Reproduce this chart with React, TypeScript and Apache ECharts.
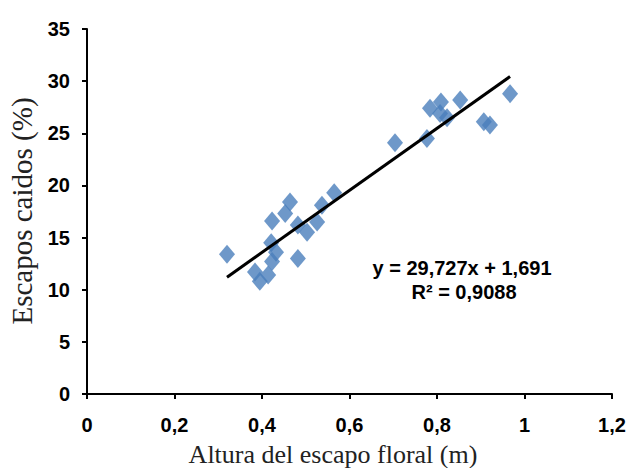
import React, { useEffect, useRef } from "react";
import * as echarts from "echarts";

const alturas: number[] = [0.32, 0.384, 0.395, 0.414, 0.423, 0.421, 0.432, 0.423, 0.464, 0.453, 0.482, 0.482, 0.503, 0.526, 0.537, 0.565, 0.704, 0.777, 0.784, 0.809, 0.807, 0.823, 0.853, 0.907, 0.921, 0.967];
const caidos: number[] = [13.4, 11.7, 10.8, 11.4, 16.6, 14.5, 13.6, 12.7, 18.4, 17.3, 13.0, 16.2, 15.5, 16.5, 18.1, 19.3, 24.1, 24.5, 27.4, 28.0, 26.9, 26.5, 28.2, 26.1, 25.8, 28.8];
const trendLine: [number, number][] = [[0.32, 11.2], [0.967, 30.44]];
const xTicks = { min: 0, max: 1.2, interval: 0.2 };
const yTicks = { min: 0, max: 35, interval: 5 };
const ecuacion = "y = 29,727x + 1,691";
const r2 = "R² = 0,9088";
const xTitle = "Altura del escapo floral (m)";
const yTitle = "Escapos caidos (%)";

const tickFont = "'Liberation Sans', Arial, sans-serif";
const serif = "'Liberation Serif', 'Times New Roman', serif";

export default function App() {
  const ref = useRef<HTMLDivElement>(null);
  useEffect(() => {
    if (!ref.current) return;
    const chart = echarts.init(ref.current, null, { renderer: "svg" });
    const fmt = (v: number) => String(Math.round(v * 10) / 10).replace(".", ",");
    chart.setOption({
      animation: false,
      backgroundColor: "#ffffff",
      grid: { left: 87, right: 21, top: 29, bottom: 74, containLabel: false },
      xAxis: {
        type: "value",
        min: xTicks.min,
        max: xTicks.max,
        interval: xTicks.interval,
        axisLine: { show: true, lineStyle: { color: "#000", width: 2 } },
        axisTick: { show: true, length: 5, lineStyle: { color: "#000", width: 2 } },
        axisLabel: { formatter: fmt, fontFamily: tickFont, fontWeight: "bold", fontSize: 20, color: "#000", margin: 21 },
        splitLine: { show: false },
      },
      yAxis: {
        type: "value",
        min: yTicks.min,
        max: yTicks.max,
        interval: yTicks.interval,
        axisLine: { show: true, lineStyle: { color: "#000", width: 2 } },
        axisTick: { show: true, length: 5, lineStyle: { color: "#000", width: 2 } },
        axisLabel: { fontFamily: tickFont, fontWeight: "bold", fontSize: 20, color: "#000", margin: 17 },
        splitLine: { show: false },
      },
      series: [
        {
          type: "scatter",
          symbol: "diamond",
          symbolSize: [16, 19],
          itemStyle: { color: "#4a7ebb" },
          data: alturas.map((x, i) => [x, caidos[i]]),
          z: 2,
        },
        {
          type: "line",
          data: trendLine,
          symbol: "none",
          lineStyle: { color: "#000", width: 3 },
          z: 3,
        },
      ],
      graphic: [
        {
          type: "text",
          x: 462,
          y: 268,
          style: { text: ecuacion, font: `bold 20px ${tickFont}`, fill: "#000", textAlign: "center", textVerticalAlign: "middle" },
        },
        {
          type: "text",
          x: 464,
          y: 292,
          style: { text: r2, font: `bold 20px ${tickFont}`, fill: "#000", textAlign: "center", textVerticalAlign: "middle" },
        },
        {
          type: "text",
          x: 333,
          y: 454,
          style: { text: xTitle, font: `26px ${serif}`, fill: "#222", textAlign: "center", textVerticalAlign: "middle" },
        },
        {
          type: "text",
          x: 22,
          y: 211,
          rotation: Math.PI / 2,
          style: { text: yTitle, font: `29px ${serif}`, fill: "#222", textAlign: "center", textVerticalAlign: "middle" },
        },
      ],
    });
    return () => chart.dispose();
  }, []);
  return <div ref={ref} style={{ position: "absolute", left: 0, top: 0, width: 633, height: 468 }} />;
}
